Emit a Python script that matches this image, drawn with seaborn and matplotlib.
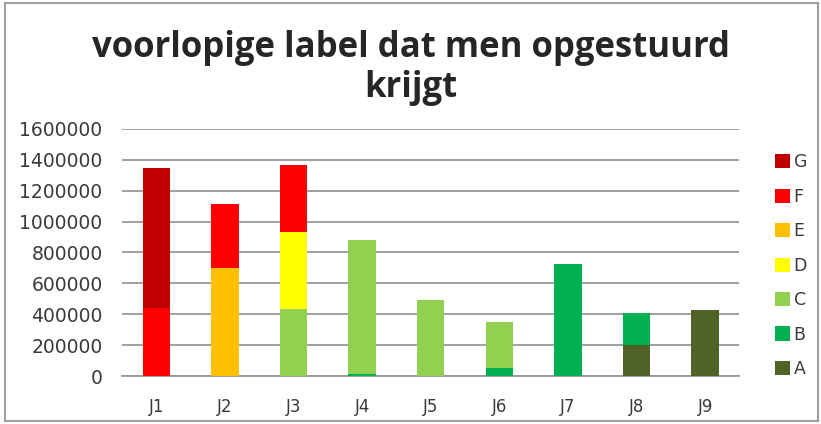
import numpy as np
import pandas as pd
import matplotlib.pyplot as plt
import seaborn as sns
from matplotlib.patches import Rectangle, Patch

# Gegevens
jaren = ['J1', 'J2', 'J3', 'J4', 'J5', 'J6', 'J7', 'J8', 'J9']
labels = ['A', 'B', 'C', 'D', 'E', 'F', 'G']
A = [0, 0, 0, 0, 0, 0, 0, 200000, 430000]
B = [0, 0, 0, 12000, 0, 52000, 725000, 208000, 0]
C = [0, 0, 435000, 870000, 495000, 296000, 0, 0, 0]
D = [0, 0, 495000, 0, 0, 0, 0, 0, 0]
E = [0, 700000, 0, 0, 0, 0, 0, 0, 0]
F = [440000, 415000, 435000, 0, 0, 0, 0, 0, 0]
G = [905000, 0, 0, 0, 0, 0, 0, 0, 0]
kleuren = ['#4F6228', '#00B050', '#92D050', '#FFFF00', '#FFC000', '#FF0000', '#C00000']

df = pd.DataFrame({'Jaar': jaren, 'A': A, 'B': B, 'C': C, 'D': D, 'E': E, 'F': F, 'G': G})
cum = df[labels].cumsum(axis=1)
cum['Jaar'] = jaren

sns.set_style('white')
plt.rcParams['font.family'] = ['DejaVu Sans']

fig = plt.figure(figsize=(8.21, 4.24), dpi=100)
ax = fig.add_axes([0.1486, 0.1132, 0.752, 0.583])

# gestapelde staven: van boven naar onder tekenen
for lab, kl in zip(labels[::-1], kleuren[::-1]):
    sns.barplot(data=cum, x='Jaar', y=lab, color=kl, width=0.4, ax=ax,
                saturation=1, linewidth=0, edgecolor='none', zorder=3)

ax.set_ylim(0, 1600000)
ax.set_yticks(np.arange(0, 1600001, 200000))
ax.set_yticklabels([f'{v}' for v in range(0, 1600001, 200000)])
ax.yaxis.grid(True, color='#999999', linewidth=1.3, zorder=0)
ax.set_axisbelow(True)
ax.set_xlabel('')
ax.set_ylabel('')
ax.set_xlim(-0.5, 8.5)

for s in ['top', 'right', 'left']:
    ax.spines[s].set_visible(False)
ax.spines['bottom'].set_color('#999999')
ax.spines['bottom'].set_linewidth(1.3)

ax.tick_params(axis='y', length=7, width=1.3, color='#999999', labelsize=13.5,
               labelcolor='#3a3a3a', pad=7)
ax.set_xticks(np.arange(-0.5, 9, 1), minor=True)
ax.tick_params(axis='x', which='major', length=0, labelsize=12, labelcolor='#3a3a3a', pad=16)
ax.tick_params(axis='x', which='minor', length=5, width=1.3, color='#999999')

fig.suptitle('voorlopige label dat men opgestuurd\nkrijgt', y=0.93, fontsize=25,
             fontweight='bold', family='Open Sans', linespacing=1.15)

handles = [Patch(facecolor=k, edgecolor='none', label=l) for l, k in zip(labels[::-1], kleuren[::-1])]
fig.legend(handles=handles, loc='upper left', bbox_to_anchor=(0.935, 0.655), frameon=False,
           fontsize=12.5, labelspacing=0.95, handlelength=0.9, handleheight=0.9,
           handletextpad=0.2, labelcolor='#3a3a3a', borderaxespad=0)

fig.patches.append(Rectangle((0.006, 0.008), 0.99, 0.984, transform=fig.transFigure,
                             fill=False, edgecolor='#a0a0a0', linewidth=1.5))

plt.savefig('out.png', dpi=100)
